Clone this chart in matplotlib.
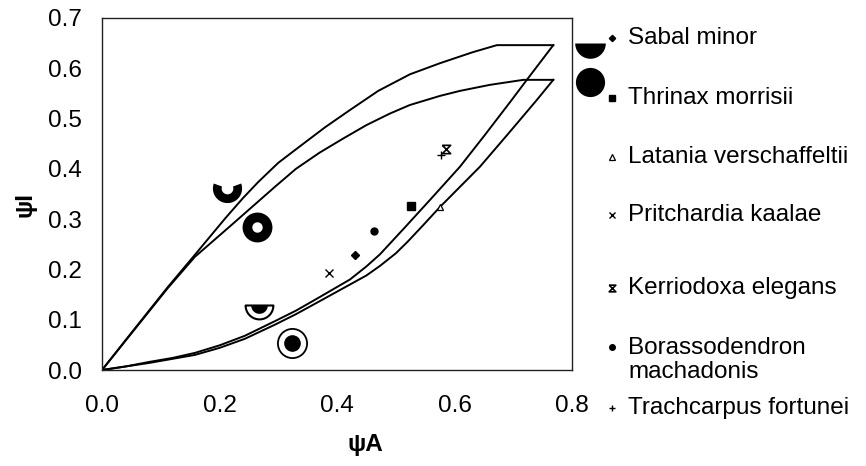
import numpy as np
import matplotlib
matplotlib.use("Agg")
import matplotlib.pyplot as plt
from matplotlib.path import Path
from matplotlib.lines import Line2D

plt.rcParams['font.family'] = ['Liberation Sans', 'DejaVu Sans']

# small symbols: one point per species
species = ["Sabal minor", "Thrinax morrisii", "Latania verschaffeltii",
           "Pritchardia kaalae", "Kerriodoxa elegans",
           "Borassodendron\nmachadonis", "Trachcarpus fortunei"]
psiA = [0.430, 0.526, 0.575, 0.386, 0.585, 0.463, 0.577]
psiI = [0.229, 0.326, 0.324, 0.193, 0.439, 0.276, 0.427]

# large symbols
big_psiA = [0.213, 0.264, 0.267, 0.323]
big_psiI = [0.362, 0.284, 0.129, 0.054]

# key symbols beside the loop ends
key_psiA = [0.831, 0.831]
key_psiI = [0.650, 0.573]

# outer loop
outer_up_x = [0, 0.05, 0.112, 0.158, 0.21, 0.24, 0.266, 0.30, 0.337, 0.38, 0.422,
              0.47, 0.524, 0.575, 0.631, 0.672, 0.768]
outer_up_y = [0, 0.074, 0.165, 0.229, 0.302, 0.342, 0.374, 0.412, 0.445, 0.483, 0.517,
              0.555, 0.588, 0.610, 0.632, 0.646, 0.646]
outer_lo_x = [0, 0.04, 0.08, 0.12, 0.158, 0.20, 0.243, 0.294, 0.33, 0.366, 0.422, 0.45,
              0.473, 0.515, 0.558, 0.609, 0.65, 0.694, 0.723, 0.768]
outer_lo_y = [0, 0.007, 0.016, 0.024, 0.034, 0.049, 0.068, 0.097, 0.118, 0.142, 0.180, 0.206,
              0.230, 0.283, 0.338, 0.404, 0.465, 0.532, 0.577, 0.646]
# inner loop
inner_up_x = [0, 0.112, 0.158, 0.22, 0.294, 0.33, 0.37, 0.41, 0.45, 0.49, 0.524,
              0.575, 0.609, 0.66, 0.717, 0.768]
inner_up_y = [0, 0.163, 0.225, 0.288, 0.364, 0.400, 0.432, 0.460, 0.487, 0.510, 0.527,
              0.545, 0.555, 0.567, 0.577, 0.577]
inner_lo_x = [0, 0.08, 0.158, 0.20, 0.243, 0.294, 0.33, 0.366, 0.422, 0.45, 0.473, 0.50,
              0.52, 0.545, 0.575, 0.643, 0.69, 0.740, 0.768]
inner_lo_y = [0, 0.014, 0.030, 0.044, 0.062, 0.090, 0.111, 0.134, 0.170, 0.188, 0.207, 0.232,
              0.255, 0.286, 0.324, 0.404, 0.468, 0.537, 0.577]


def ring_part(t1, t2, r_in, n=60):
    a = np.radians(np.linspace(t1, t2, n))
    outer = np.column_stack([np.cos(a), np.sin(a)])
    inner = np.column_stack([r_in * np.cos(a[::-1]), r_in * np.sin(a[::-1])])
    v = np.vstack([outer, inner, outer[:1]])
    codes = [Path.MOVETO] + [Path.LINETO] * (len(v) - 2) + [Path.CLOSEPOLY]
    return Path(v, codes)


def lower_half(n=60):
    a = np.radians(np.linspace(180, 360, n))
    v = np.vstack([np.column_stack([np.cos(a), np.sin(a)]), [[-1, 0]]])
    codes = [Path.MOVETO] + [Path.LINETO] * (len(v) - 2) + [Path.CLOSEPOLY]
    return Path(v, codes)


bowl = ring_part(160, 380, 0.4)
half = lower_half()
hourglass = Path([(-1, 1), (1, 1), (-1, -1), (1, -1), (-1, 1)])

small_styles = [
    dict(marker='D', ms=4, mfc='black', mec='black'),
    dict(marker='s', ms=6, mfc='black', mec='black'),
    dict(marker='^', ms=5, mfc='white', mec='black', mew=0.9),
    dict(marker='x', ms=6, mec='black', mew=1.0),
    dict(marker=hourglass, ms=6, mfc='none', mec='black', mew=1.2),
    dict(marker='o', ms=5, mfc='black', mec='black'),
    dict(marker='+', ms=6, mec='black', mew=1.0),
]

FS = 17.5

fig = plt.figure(figsize=(8.66, 4.66), dpi=100)
ax = fig.add_axes([0.1178, 0.206, 0.5428, 0.7554])

for xs, ys in [(outer_up_x, outer_up_y), (outer_lo_x, outer_lo_y),
               (inner_up_x, inner_up_y), (inner_lo_x, inner_lo_y)]:
    ax.plot(xs, ys, color='black', lw=1.4, solid_joinstyle='round')

for i in range(len(species)):
    ax.plot(psiA[i], psiI[i], ls='none', **small_styles[i])

# large symbols
ax.plot(big_psiA[0], big_psiI[0], marker=bowl, ms=21, color='black', mew=0)
ax.plot(big_psiA[1], big_psiI[1], marker='o', ms=14.5, mfc='white', mec='black', mew=7)
ax.plot(big_psiA[2], big_psiI[2], marker=half, ms=20, mfc='white', mec='black', mew=1.5)
ax.plot(big_psiA[2], big_psiI[2], marker=half, ms=12, color='black', mew=0)
ax.plot(big_psiA[3], big_psiI[3], marker='o', ms=21, mfc='white', mec='black', mew=1.3)
ax.plot(big_psiA[3], big_psiI[3], marker='o', ms=12, color='black', mew=0)

ax.plot(key_psiA[0], key_psiI[0], marker=half, ms=22, color='black', mew=0, clip_on=False)
ax.plot(key_psiA[1], key_psiI[1], marker='o', ms=21, color='black', mew=0, clip_on=False)

ax.set_xlim(0, 0.8)
ax.set_ylim(0, 0.7)
ax.set_xticks(np.arange(0, 0.81, 0.2))
ax.set_yticks(np.arange(0, 0.71, 0.1))
ax.set_xticklabels([f"{v:.1f}" for v in np.arange(0, 0.81, 0.2)])
ax.set_yticklabels([f"{v:.1f}" for v in np.arange(0, 0.71, 0.1)])
ax.tick_params(length=0, labelsize=FS)
ax.tick_params(axis='x', pad=18)
ax.tick_params(axis='y', pad=14.5)
for s in ax.spines.values():
    s.set_linewidth(1.0)
    s.set_color('#222222')

ax.set_xlabel('ψA', fontsize=FS, fontweight='bold', va='center')
ax.xaxis.set_label_coords(0.56, -0.213)
ax.set_ylabel('ψI', fontsize=FS, fontweight='bold', va='center')
ax.yaxis.set_label_coords(-0.164, 0.469)

# legend drawn by hand to keep the original uneven spacing
leg_y = [38, 98, 157, 215, 288, 347, 408]
W, H = 866, 466
for i, name in enumerate(species):
    yf = 1 - leg_y[i] / H
    st = dict(small_styles[i])
    st['ms'] = st['ms'] * 0.8
    fig.add_artist(Line2D([612 / W], [yf], transform=fig.transFigure, ls='none', **st))
    if '\n' in name:
        fig.text(628 / W, 1 - (leg_y[i] + 13) / H, name, fontsize=FS, va='center',
                 linespacing=1.12)
    else:
        fig.text(628 / W, yf, name, fontsize=FS, va='center')

fig.savefig('out.png', dpi=100)
